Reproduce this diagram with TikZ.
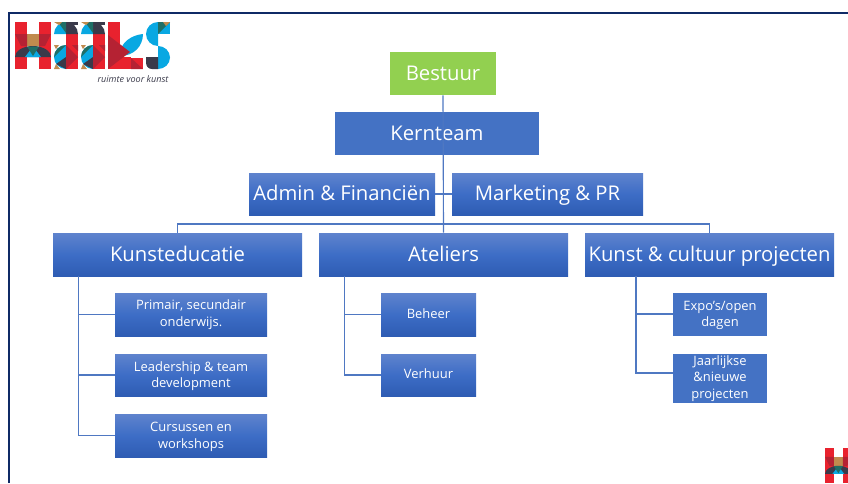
\documentclass[tikz,border=0pt]{standalone}
\usepackage{fontspec}
\setmainfont{Open Sans}
\definecolor{flatblue}{HTML}{4472C4}
\definecolor{gtop}{HTML}{5F83CD}
\definecolor{gmid}{HTML}{3D6DC6}
\definecolor{gbot}{HTML}{2E5CB3}
\definecolor{linkblue}{HTML}{4F78C2}
\definecolor{framenavy}{HTML}{0F2A66}
\definecolor{lgreen}{HTML}{92D050}
\definecolor{lgred}{HTML}{E8222E}
\definecolor{lgdred}{HTML}{B52233}
\definecolor{lgcyan}{HTML}{08A8E2}
\definecolor{lgdark}{HTML}{3A3A4A}
\definecolor{lgteal}{HTML}{1F6F66}
\definecolor{lgbrown}{HTML}{C08B4E}
\tikzset{
  sz/.style 2 args={minimum width=#1*0.75pt,minimum height=#2*0.75pt},
  flatbox/.style={fill=flatblue,text=white,inner sep=0pt,align=center},
  gradbox/.style={top color=gtop,bottom color=gbot,middle color=gmid,text=white,inner sep=0pt,align=center},
  bigtxt/.style={font=\fontsize{15.2pt}{17pt}\selectfont,text height=12.3pt,text depth=2.3pt},
  smalltxt/.style={font=\fontsize{9.7pt}{12.2pt}\selectfont},
  onetxt/.style={font=\fontsize{9.7pt}{12.2pt}\selectfont,text height=7.6pt,text depth=1.9pt},
  link/.style={draw=linkblue,line width=0.85pt},
  hlogo/.pic={
    \fill[lgred] (0,0) rectangle (12,47);
    \fill[lgred] (24,0) rectangle (36,47);
    \fill[lgbrown] (12,12) rectangle (24,24);
    \fill[lgdred] (0,12) -- (12,12) -- (12,24) -- (6,24) -- cycle;
    \fill[lgdred] (36,12) -- (24,12) -- (24,24) -- (30,24) -- cycle;
    \fill[lgdark] (0,35) arc[start angle=180,end angle=360,x radius=18,y radius=11] -- cycle;
    \fill[lgcyan] (10,35) -- (18,24.5) -- (26,35) -- cycle;
    \fill[lgteal] (12,24.5) -- (24,24.5) -- (18,34) -- cycle;
  },
  oletter/.pic={
    \fill[lgred] (12,12) rectangle (24,47);
    \fill[lgcyan] (0,12) arc[start angle=180,end angle=270,radius=12] -- (12,12) -- cycle;
    \fill[lgdark] (12,0) arc[start angle=270,end angle=360,radius=12] -- (12,12) -- cycle;
    \fill[lgdark] (12,0) rectangle (24,3);
    \fill[lgteal] (4,0) -- (12,0) -- (12,11) -- cycle;
    \fill[lgbrown] (0,0) -- (8,0) -- (5,3) -- cycle;
    \fill[lgcyan] (12,35) circle[radius=12];
    \fill[lgteal] (12,23) arc[start angle=270,end angle=180,radius=12] -- cycle;
    \fill[lgdark] (2,42) -- (12,47) -- (12,35) -- cycle;
    \fill[lgred] (12,23) rectangle (24,47);
    \fill[lgdred] (12,23) -- (24,35) -- (12,47) -- cycle;
    \fill[lgdred] (24,23) -- (24,29) -- (18,23) -- cycle;
    \fill[lgbrown] (0,47) -- (6,47) -- (2,42) -- cycle;
    \fill[lgbrown] (0,23) -- (5,23) -- (2,27) -- cycle;
  },
  logok/.pic={
    \fill[lgcyan] (12,33) .. controls (12,20) and (24,13) .. (35,12) .. controls (35,24) and (26,34) .. (12,34) -- cycle;
    \fill[lgred] (0,0) rectangle (12,47);
    \fill[lgred] (12,35) rectangle (23,47);
    \fill[lgdred] (0,13) -- (22,30) -- (0,47) -- cycle;
    \fill[lgred] (23,36) rectangle (35,47);
    \fill[lgdred] (23,36) -- (35,47) -- (23,47) -- cycle;
  },
  logos/.pic={
    \fill[lgcyan] (12,0) arc[start angle=270,end angle=90,radius=12] -- cycle;
    \fill[lgcyan] (12,0) rectangle (24,12);
    \fill[lgcyan] (12,24) arc[start angle=-90,end angle=90,x radius=12,y radius=11.5] -- cycle;
    \fill[lgteal] (12,0) -- (24,0) -- (12,12) -- cycle;
    \fill[lgbrown] (17,0) -- (24,0) -- (20,4) -- cycle;
    \fill[lgdark] (12,35) -- (12,47) -- (6,47) .. controls (2,47) and (0,44) .. (0,40) -- (0,35) -- cycle;
  }
}
\begin{document}
\begin{tikzpicture}[x=0.75pt,y=-0.75pt]
\useasboundingbox (0,0) rectangle (848,483);
\draw[framenavy,line width=1.5pt] (9,483) -- (9,13) -- (848,13);
% logo
\pic at (15,22) {hlogo};
\pic at (54,22) {oletter};
\pic at (81,22) {oletter};
\pic at (108,22) {logok};
\pic at (146,22) {logos};
\node[inner sep=0pt,text=lgdark,font=\fontsize{6.8pt}{8pt}\selectfont\itshape] (tagline) at (133,79) {ruimte voor kunst};
\begin{scope}[shift={(825,448)},x=0.555pt,y=-0.555pt]
\pic at (0,0) {hlogo};
\end{scope}
% boxes
\node[fill=lgreen,inner sep=0pt,sz={106}{43},text=white,bigtxt] (bestuur) at (443,73.5) {Bestuur};
\node[flatbox,bigtxt,sz={204}{43}] (kern) at (437,133.5) {Kernteam};
\node[gradbox,bigtxt,sz={186}{42}] (admin) at (342,194) {Admin \& Financiën};
\node[gradbox,bigtxt,sz={191}{42}] (mark) at (547.5,194) {Marketing \& PR};
\node[gradbox,bigtxt,sz={249}{43}] (kunsted) at (177.5,254.5) {Kunsteducatie};
\node[gradbox,bigtxt,sz={249}{43}] (atel) at (443.5,254.5) {Ateliers};
\node[gradbox,bigtxt,sz={249}{43}] (proj) at (709.5,254.5) {Kunst \& cultuur projecten};
\node[gradbox,smalltxt,sz={152}{43}] (prim) at (191,314.5) {Primair, secundair\\onderwijs.};
\node[gradbox,smalltxt,sz={152}{42}] (lead) at (191,375) {\rule{0pt}{9pt}Leadership \& team\\development};
\node[gradbox,smalltxt,sz={152}{43}] (curs) at (191,435.5) {\rule{0pt}{9pt}Cursussen en\\workshops};
\node[gradbox,onetxt,sz={95}{43}] (beh) at (428.5,314.5) {Beheer};
\node[gradbox,onetxt,sz={95}{42}] (verh) at (428.5,375) {Verhuur};
\node[flatbox,smalltxt,sz={94}{43}] (expo) at (720,314) {\rule{0pt}{9pt}Expo’s/open\\dagen};
\node[flatbox,smalltxt,sz={94}{49}] (jaar) at (720,378.5) {Jaarlijkse\\\&nieuwe\\projecten};
% connector anchors
\coordinate (bus) at (443.5,224);
\coordinate (kstem) at (78.5,276);
\coordinate (astem) at (344.5,276);
\coordinate (pstem) at (636,276);
% connectors
\draw[link] (bestuur.south) -- (atel.north);
\draw[link] (admin.east) -- (mark.west);
\draw[link] (kunsted.north) |- (bus) -| (proj.north);
\draw[link] (kstem) |- (prim.west);
\draw[link] (kstem) |- (lead.west);
\draw[link] (kstem) |- (curs.west);
\draw[link] (astem) |- (beh.west);
\draw[link] (astem) |- (verh.west);
\draw[link] (pstem) |- (expo.west);
\draw[link] (pstem) |- ([yshift=4.1pt]jaar.west);
\end{tikzpicture}
\end{document}
